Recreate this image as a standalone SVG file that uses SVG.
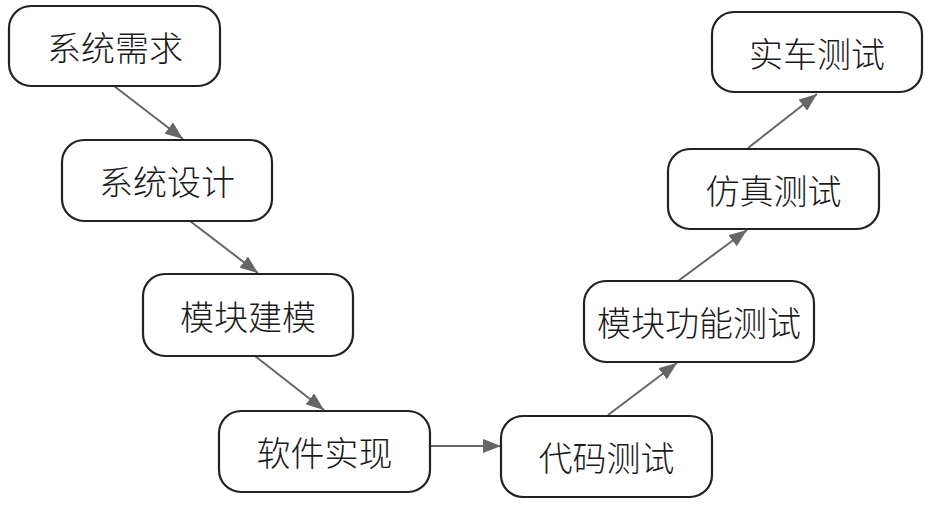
<svg xmlns="http://www.w3.org/2000/svg" width="935" height="519" viewBox="0 0 935 519">
<style>
.node rect{fill:#fff;stroke:#222;stroke-width:2.2}
.node text{font-family:"Noto Sans CJK SC","Noto Sans CJK JP",sans-serif;font-size:34px;font-weight:300;fill:#1a1a1a;text-anchor:middle;dominant-baseline:central}
.edges line{stroke:#666;stroke-width:2}
</style>
<defs>
<marker id="ah" viewBox="0 0 18 14" refX="18" refY="7" markerWidth="18" markerHeight="14" markerUnits="userSpaceOnUse" orient="auto">
<path d="M0,0 L18,7 L0,14 Z" fill="#666"/>
</marker>
</defs>
<rect width="935" height="519" fill="#fff"/>
<g class="edges">
<line x1="114" y1="86" x2="183" y2="139" marker-end="url(#ah)"/>
<line x1="190" y1="221" x2="258" y2="273" marker-end="url(#ah)"/>
<line x1="255" y1="356" x2="324" y2="410" marker-end="url(#ah)"/>
<line x1="431" y1="446" x2="501" y2="446" marker-end="url(#ah)"/>
<line x1="608" y1="415" x2="677" y2="363" marker-end="url(#ah)"/>
<line x1="678" y1="281" x2="747" y2="230" marker-end="url(#ah)"/>
<line x1="748" y1="148" x2="817" y2="94" marker-end="url(#ah)"/>
</g>
<g id="n1" class="node"><rect x="9" y="6" width="211" height="80" rx="22"/><text x="115" y="46">系统需求</text></g>
<g id="n2" class="node"><rect x="62" y="140" width="210" height="81" rx="22"/><text x="167" y="180.5">系统设计</text></g>
<g id="n3" class="node"><rect x="143" y="274" width="210" height="82" rx="22"/><text x="248" y="315">模块建模</text></g>
<g id="n4" class="node"><rect x="219" y="411" width="211" height="81" rx="22"/><text x="324.5" y="451.5">软件实现</text></g>
<g id="n5" class="node"><rect x="501" y="416" width="211" height="81" rx="22"/><text x="606.5" y="456.5">代码测试</text></g>
<g id="n6" class="node"><rect x="584" y="281" width="230" height="81" rx="22"/><text x="699" y="321.5">模块功能测试</text></g>
<g id="n7" class="node"><rect x="668" y="149" width="211" height="80" rx="22"/><text x="773.5" y="189">仿真测试</text></g>
<g id="n8" class="node"><rect x="712" y="12" width="210" height="80" rx="22"/><text x="817" y="52">实车测试</text></g>
</svg>
